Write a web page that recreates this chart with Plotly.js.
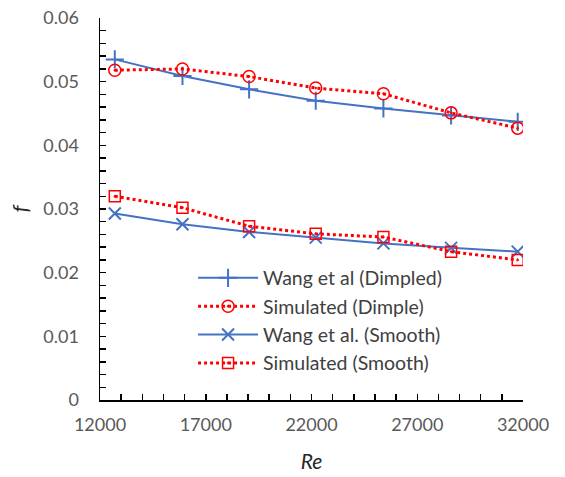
<!DOCTYPE html>
<html>
<head>
<meta charset="utf-8">
<script src="https://cdn.plot.ly/plotly-3.0.1.min.js"></script>
<style>html,body{margin:0;padding:0;background:#fff;}#chart{width:565px;height:477px;}</style>
</head>
<body>
<div id="chart"></div>
<script>
const reynolds = [12700, 15900, 19050, 22200, 25400, 28600, 31750];
const wangDimpled = [0.0535, 0.0509, 0.0488, 0.0470, 0.0458, 0.0447, 0.0437];
const simDimple = [0.0518, 0.0520, 0.0508, 0.0490, 0.0481, 0.0451, 0.0427];
const wangSmooth = [0.0293, 0.0276, 0.0264, 0.0255, 0.0246, 0.0239, 0.0233];
const simSmooth = [0.0320, 0.0302, 0.0273, 0.0261, 0.0256, 0.0233, 0.0220];
const seriesNames = ["Wang et al (Dimpled)", "Simulated (Dimple)", "Wang et al. (Smooth)", "Simulated (Smooth)"];
const xTicks = [12000, 17000, 22000, 27000, 32000];
const yTicks = [0, 0.01, 0.02, 0.03, 0.04, 0.05, 0.06];

const blue = "#4472C4", red = "#FF0000";
const font = "Lato, 'Open Sans', sans-serif";

const traces = [
  {x: reynolds, y: wangDimpled, name: seriesNames[0], mode: "lines+markers",
   line: {color: blue, width: 2},
   marker: {symbol: "cross-thin-open", size: 13, line: {color: blue, width: 2}}},
  {x: reynolds, y: simDimple, name: seriesNames[1], mode: "lines+markers",
   line: {color: red, width: 3, dash: "dot"},
   marker: {symbol: "circle-open-dot", size: 12, color: red, line: {color: red, width: 1.5}}},
  {x: reynolds, y: wangSmooth, name: seriesNames[2], mode: "lines+markers",
   line: {color: blue, width: 2},
   marker: {symbol: "x-thin-open", size: 12, line: {color: blue, width: 2}}},
  {x: reynolds, y: simSmooth, name: seriesNames[3], mode: "lines+markers",
   line: {color: red, width: 3, dash: "dot"},
   marker: {symbol: "square-open-dot", size: 11, color: red, line: {color: red, width: 1.5}}}
];

const layout = {
  width: 565, height: 477,
  margin: {l: 100, r: 42, t: 18, b: 77},
  paper_bgcolor: "#fff", plot_bgcolor: "#fff",
  font: {family: font, size: 18, color: "#595959"},
  showlegend: true,
  legend: {x: 0.22, y: 0.37, xanchor: "left", yanchor: "top", bgcolor: "rgba(0,0,0,0)",
           font: {family: font, size: 19.5, color: "#404040"}, itemwidth: 60, tracegroupgap: 0},
  xaxis: {
    range: [12000, 32000], tickvals: xTicks, ticktext: xTicks.map(String),
    showgrid: false, zeroline: false, showline: true, linecolor: "#000", linewidth: 1.5,
    ticks: "inside", ticklen: 6, tickwidth: 1.5, tickcolor: "#000",
    minor: {dtick: 1000, tick0: 12000, ticks: "inside", ticklen: 6, tickwidth: 1.5, tickcolor: "#000", showgrid: false},
    ticklabelstandoff: 8,
    title: {text: "<i>Re</i>", font: {family: font, size: 21, color: "#262626"}, standoff: 20}
  },
  yaxis: {
    range: [0, 0.06], tickvals: yTicks, ticktext: yTicks.map(String),
    showgrid: false, zeroline: false, showline: true, linecolor: "#000", linewidth: 1.5,
    ticks: "inside", ticklen: 6, tickwidth: 1.5, tickcolor: "#000",
    minor: {dtick: 0.002, tick0: 0, ticks: "inside", ticklen: 6, tickwidth: 1.5, tickcolor: "#000", showgrid: false},
    ticklabelstandoff: 16,
    title: {text: "<i>f</i>", font: {family: font, size: 22, color: "#262626"}, standoff: 8}
  }
};

Plotly.newPlot("chart", traces, layout, {displayModeBar: false, staticPlot: true});
</script>
</body>
</html>
